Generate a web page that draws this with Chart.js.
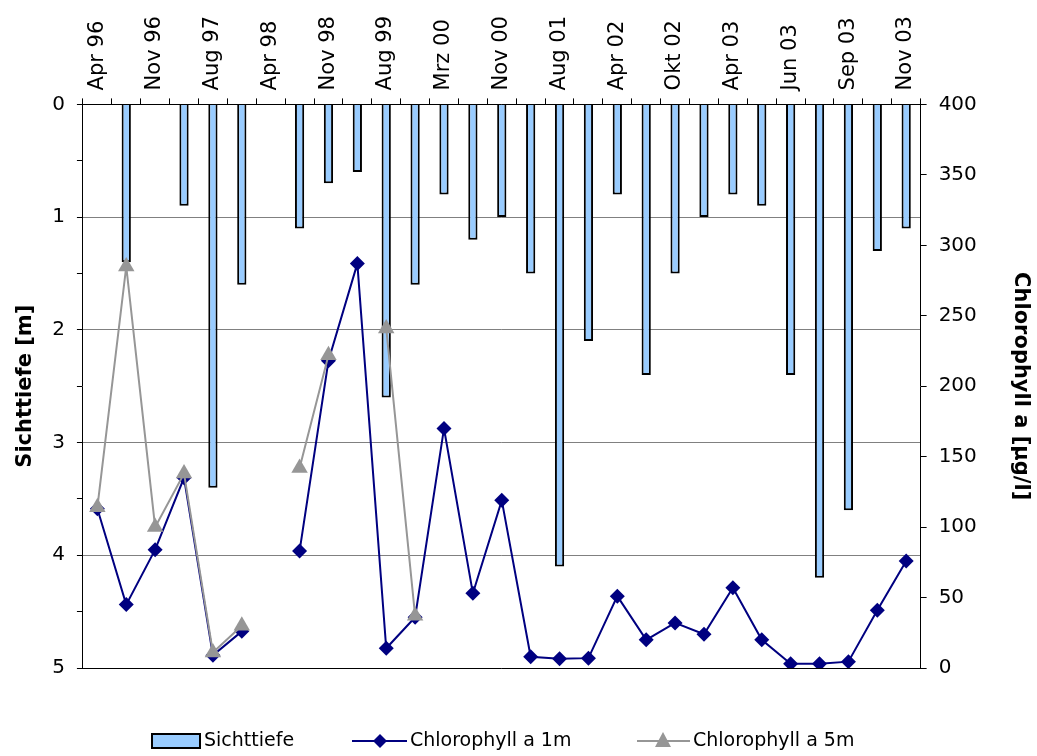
<!DOCTYPE html>
<html>
<head>
<meta charset="utf-8">
<script src="https://cdn.jsdelivr.net/npm/chart.js@4/dist/chart.umd.min.js"></script>
<style>
  html, body { margin: 0; padding: 0; background: #fff; }
  #wrap { width: 1037px; height: 756px; }
</style>
</head>
<body>
<div id="wrap"><canvas id="mychart" width="1037" height="756"></canvas></div>
<script>
// categories (only every other one is labelled in the original)
var categories = ['Apr 96', '', 'Nov 96', '', 'Aug 97', '', 'Apr 98', '', 'Nov 98', '',
    'Aug 99', '', 'Mrz 00', '', 'Nov 00', '', 'Aug 01', '', 'Apr 02', '',
    'Okt 02', '', 'Apr 03', '', 'Jun 03', '', 'Sep 03', '', 'Nov 03'];

// Sichttiefe [m]
var sichttiefe = [null, 1.4, null, 0.9, 3.4, 1.6, null, 1.1, 0.7, 0.6,
    2.6, 1.6, 0.8, 1.2, 1.0, 1.5, 4.1, 2.1, 0.8, 2.4,
    1.5, 1.0, 0.8, 0.9, 2.4, 4.2, 3.6, 1.3, 1.1];

// Chlorophyll a [µg/l]
var chl1m = [113, 45, 84, 135, 9, 26, null, 83, 218, 287,
    14, 36, 170, 53, 119, 8, 6.5, 7, 51, 20,
    32, 24, 57, 20, 3, 3, 4.5, 41, 76];
var chl5m = [114, 285, 100, 138, 11, 30, null, 142, 222, null,
    241, 37, null, null, null, null, null, null, null, null,
    null, null, null, null, null, null, null, null, null];

var leftTicks = [0, 1, 2, 3, 4, 5];
var rightTicks = [0, 50, 100, 150, 200, 250, 300, 350, 400];

var FONT = "'DejaVu Sans', 'Liberation Sans', Arial, sans-serif";

// legend drawn like the Excel one: box, line+marker, line+marker
var excelLegend = {
    id: 'excelLegend',
    afterDraw: function (chart) {
        var c = chart.ctx;
        var y = 741;
        c.save();
        c.font = '19px ' + FONT;
        c.textBaseline = 'middle';
        // Sichttiefe
        c.fillStyle = '#99CCFF';
        c.fillRect(152, y - 7, 48, 14);
        c.strokeStyle = '#000';
        c.lineWidth = 2;
        c.strokeRect(152, y - 7, 48, 14);
        c.fillStyle = '#000';
        c.fillText('Sichttiefe', 204, y);
        // Chlorophyll a 1m
        c.strokeStyle = '#000080';
        c.lineWidth = 2;
        c.beginPath(); c.moveTo(352, y); c.lineTo(407, y); c.stroke();
        c.fillStyle = '#000080';
        c.beginPath(); c.moveTo(380, y - 7); c.lineTo(387, y); c.lineTo(380, y + 7); c.lineTo(373, y); c.closePath(); c.fill();
        c.fillStyle = '#000';
        c.fillText('Chlorophyll a 1m', 410, y);
        // Chlorophyll a 5m
        c.strokeStyle = '#969696';
        c.beginPath(); c.moveTo(637, y); c.lineTo(690, y); c.stroke();
        c.fillStyle = '#969696';
        c.beginPath(); c.moveTo(663, y - 9); c.lineTo(671, y + 6); c.lineTo(655, y + 6); c.closePath(); c.fill();
        c.fillStyle = '#000';
        c.fillText('Chlorophyll a 5m', 693, y);
        c.restore();
    }
};

var ctx = document.getElementById('mychart').getContext('2d');
var myChart = new Chart(ctx, {
    type: 'bar',
    data: {
        labels: categories,
        datasets: [{
            type: 'line',
            label: 'Chlorophyll a 5m',
            data: chl5m,
            yAxisID: 'y1',
            borderColor: '#969696',
            backgroundColor: '#969696',
            borderWidth: 2,
            pointStyle: 'triangle',
            pointRadius: 9.5,
            pointBorderWidth: 0,
            spanGaps: false,
            tension: 0,
            order: 1
        }, {
            type: 'line',
            label: 'Chlorophyll a 1m',
            data: chl1m,
            yAxisID: 'y1',
            borderColor: '#000080',
            backgroundColor: '#000080',
            borderWidth: 2,
            pointStyle: 'rectRot',
            pointRadius: 7.5,
            pointBorderWidth: 0,
            spanGaps: false,
            tension: 0,
            order: 2
        }, {
            type: 'bar',
            label: 'Sichttiefe',
            data: sichttiefe,
            yAxisID: 'y',
            backgroundColor: '#99CCFF',
            borderColor: '#000',
            borderWidth: 2,
            barPercentage: 0.32,
            categoryPercentage: 1,
            order: 3
        }]
    },
    options: {
        responsive: false,
        animation: false,
        layout: { padding: { left: 8, right: 0, top: 8, bottom: 88 } },
        plugins: {
            legend: { display: false },
            tooltip: { enabled: false }
        },
        scales: {
            x: {
                position: 'top',
                offset: true,
                grid: { offset: true, drawOnChartArea: false, color: '#000', tickLength: 6 },
                border: { color: '#000', width: 1 },
                ticks: {
                    autoSkip: false, maxRotation: 90, minRotation: 90,
                    labelOffset: 25,
                    color: '#000', font: { family: FONT, size: 21 }, padding: 8
                }
            },
            y: {
                position: 'left',
                reverse: true,
                min: 0, max: 5,
                border: { color: '#000', width: 1 },
                grid: {
                    tickLength: 6,
                    tickColor: '#000',
                    color: function (c) {
                        var v = c.tick.value;
                        if (v === 5) return '#000';
                        return leftTicks.indexOf(v) >= 0 ? '#808080' : 'rgba(0,0,0,0)';
                    }
                },
                ticks: {
                    stepSize: 0.5,
                    color: '#000',
                    font: { family: FONT, size: 20 },
                    padding: 12,
                    callback: function (v) { return leftTicks.indexOf(v) >= 0 ? v : ''; }
                },
                title: {
                    display: true, text: 'Sichttiefe [m]', color: '#000',
                    font: { family: FONT, size: 21, weight: 'bold' }, padding: { top: 5, bottom: 2 }
                }
            },
            y1: {
                position: 'right',
                min: 0, max: 400,
                border: { color: '#000', width: 1 },
                grid: { drawOnChartArea: false, color: '#000', tickLength: 6 },
                ticks: {
                    stepSize: 50,
                    color: '#000',
                    font: { family: FONT, size: 20 },
                    padding: 12,
                    callback: function (v) { return rightTicks.indexOf(v) >= 0 ? v : ''; }
                },
                title: {
                    display: true, text: 'Chlorophyll a [µg/l]', color: '#000',
                    font: { family: FONT, size: 21, weight: 'bold' }, padding: { top: 4, bottom: 19 }
                }
            }
        }
    },
    plugins: [excelLegend]
});
</script>
</body>
</html>
